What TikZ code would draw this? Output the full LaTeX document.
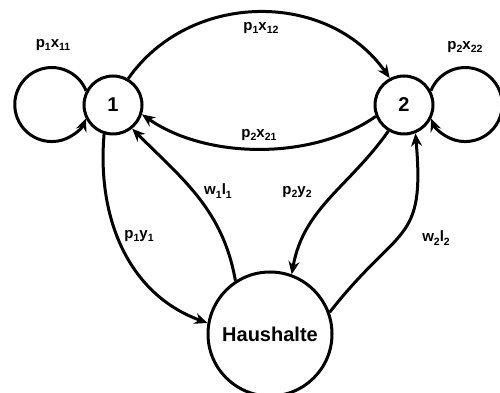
\documentclass[tikz,border=0pt]{standalone}
\usepackage{fontspec}
\setmainfont{Liberation Sans}
\usetikzlibrary{arrows.meta}
\newcommand{\lsub}[1]{\raisebox{-0.45ex}{\fontsize{10.5}{10.5}\selectfont #1}}
\begin{document}
\begin{tikzpicture}[x=1pt,y=1pt,
  state/.style={circle,draw,line width=3pt,inner sep=0pt,font=\fontsize{20}{22}\selectfont\bfseries},
  flow/.style={line width=3pt,-{Stealth[length=13pt,width=11pt]}},
  lbl/.style={font=\fontsize{15}{17}\selectfont\bfseries,inner sep=1pt}]
\useasboundingbox (0,0) rectangle (500,393);
\node[state,minimum size=58pt] (n1) at (113,288) {1};
\node[state,minimum size=58pt] (n2) at (404,288) {2};
\node[state,minimum size=124pt] (hh) at (270,59) {Haushalte};
% self loops
\draw[flow] (n1.152) arc[start angle=22,end angle=338,radius=37pt];
\draw[flow] (n2.28) arc[start angle=158,end angle=-158,radius=37pt];
% arcs between firms
\draw[flow] (n1.60) to[out=55,in=125,looseness=1.05] (n2.118);
\draw[flow] (n2.202) to[out=215,in=-35,looseness=0.85] (n1.-18);
% firm 1 <-> households
\draw[flow] (n1.253) to[out=265,in=160] (hh.170);
\draw[flow] (hh.123) to[out=100,in=-45] (n1.-51);
% firm 2 <-> households
\draw[flow] (n2.239) to[out=235,in=80] (hh.70);
\draw[flow] (hh.20) to[out=52,in=-85,looseness=1.45] (n2.-68);
% labels
\node[lbl] (l11) at (53,348) {p\lsub{1}x\lsub{11}};
\node[lbl] (l12) at (261,365) {p\lsub{1}x\lsub{12}};
\node[lbl] (l21) at (259,258) {p\lsub{2}x\lsub{21}};
\node[lbl] (l22) at (465,346) {p\lsub{2}x\lsub{22}};
\node[lbl] (lw1) at (218,202) {w\lsub{1}l\lsub{1}};
\node[lbl] (lp2) at (297,201) {p\lsub{2}y\lsub{2}};
\node[lbl] (lp1) at (139,157) {p\lsub{1}y\lsub{1}};
\node[lbl] (lw2) at (436,155) {w\lsub{2}l\lsub{2}};
\end{tikzpicture}
\end{document}
